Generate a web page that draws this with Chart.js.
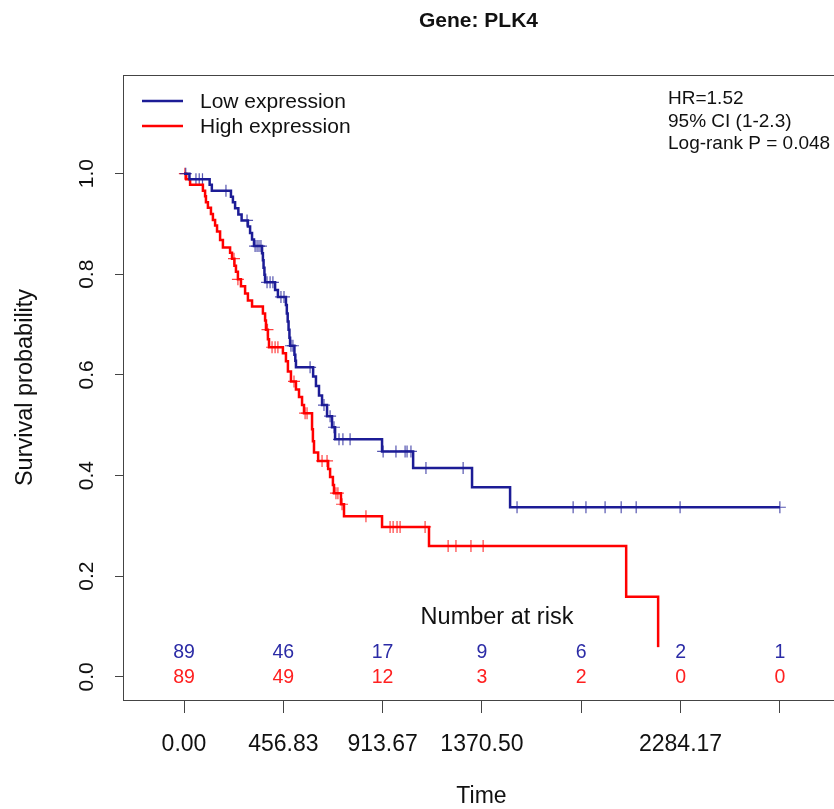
<!DOCTYPE html>
<html><head><meta charset="utf-8">
<script src="https://cdn.jsdelivr.net/npm/chart.js@4/dist/chart.umd.min.js"></script>
<style>html,body{margin:0;padding:0;background:#fff;overflow:hidden}canvas{display:block}</style>
</head><body>
<canvas id="c" width="834" height="809"></canvas>
<script>
// ---- data ----
const chartTitle = 'Gene: PLK4';
const groupNames = ['Low expression', 'High expression'];
const lowEventTimes = [25,118,128,216,225,235,250,265,294,304,313,322,359,363,366,370,373,419,432,469,473,477,481,485,488,508,512,515,594,607,621,635,658,681,695,911,1054,1325,1500];
const lowEventSurv  = [0.989,0.978,0.966,0.954,0.943,0.931,0.919,0.907,0.895,0.882,0.869,0.856,0.842,0.828,0.813,0.799,0.784,0.769,0.755,0.739,0.722,0.706,0.690,0.674,0.658,0.640,0.628,0.615,0.597,0.578,0.559,0.540,0.518,0.496,0.472,0.448,0.415,0.377,0.337];
const lowCensorTimes = [8,55,70,85,193,290,327,336,345,354,382,396,409,446,460,492,501,580,644,672,690,713,731,764,916,975,1017,1026,1044,1113,1284,1532,1790,1849,1937,2011,2080,2282,2741];
const highEventTimes = [10,28,87,97,101,110,124,133,143,152,166,179,212,221,232,239,248,262,281,294,313,363,373,377,386,391,455,469,478,492,515,529,543,552,589,593,598,617,663,672,685,690,722,736,911,1127,2034,2181];
const highEventSurv  = [0.989,0.978,0.966,0.955,0.943,0.932,0.920,0.908,0.897,0.885,0.868,0.853,0.843,0.831,0.817,0.805,0.790,0.776,0.762,0.748,0.736,0.722,0.708,0.690,0.671,0.655,0.643,0.627,0.607,0.587,0.571,0.556,0.540,0.524,0.492,0.468,0.446,0.429,0.413,0.397,0.381,0.365,0.343,0.319,0.298,0.260,0.159,0.0];
const highCensorTimes = [4,230,248,384,405,419,432,506,557,566,635,658,699,708,727,837,948,962,980,994,1109,1215,1251,1320,1376];
const xTickValues = [0,456.83,913.67,1370.50,1827.33,2284.17,2741];
const xTickLabels = ['0.00','456.83','913.67','1370.50','','2284.17',''];
const yTickValues = [0,0.2,0.4,0.6,0.8,1.0];
const yTickLabels = ['0.0','0.2','0.4','0.6','0.8','1.0'];
const riskTimes = [0,456.83,913.67,1370.50,1827.33,2284.17,2741];
const lowAtRisk = [89,46,17,9,6,2,1];
const highAtRisk = [89,49,12,3,2,0,0];
const statsLines = ['HR=1.52','95% CI (1-2.3)','Log-rank P = 0.048'];

// ---- styles ----
const BLUE = '#1c1c96', RED = '#ff0000';
const FONT = '"Liberation Sans", Arial, Helvetica, sans-serif';

function survAt(times, surv, t){ let s = 1; for (let i=0;i<times.length;i++){ if (times[i] <= t) s = surv[i]; } return s; }
function curve(times, surv, censors){
  const pts = [{x:0,y:1}];
  times.forEach((t,i)=>pts.push({x:t,y:surv[i]}));
  const lastC = Math.max(...censors);
  if (lastC > times[times.length-1]) pts.push({x:lastC, y:surv[surv.length-1]});
  return pts;
}
function marks(times, surv, censors){ return censors.map(t=>({x:t,y:survAt(times,surv,t)})); }

const overlay = {
  id:'overlay',
  afterDatasetsDraw(chart){
    const ctx = chart.ctx, a = chart.chartArea, xs = chart.scales.x, ys = chart.scales.y;
    ctx.save();
    // white band behind numbers at risk
    ctx.fillStyle = '#fff';
    ctx.fillRect(a.left+1, ys.getPixelForValue(0.059), a.right-a.left-1, ys.getPixelForValue(-0.04)-ys.getPixelForValue(0.059));
    // box
    ctx.strokeStyle = '#444'; ctx.lineWidth = 1;
    ctx.strokeRect(Math.round(a.left)+0.5, Math.round(a.top)+0.5, a.right-a.left+2, a.bottom-a.top);
    // title
    ctx.fillStyle = '#111';
    ctx.textAlign = 'center'; ctx.textBaseline = 'middle';
    ctx.font = 'bold 21px ' + FONT;
    ctx.fillText(chartTitle, (a.left+a.right)/2, 21);
    // x tick labels
    ctx.font = '23px ' + FONT;
    xTickValues.forEach((v,i)=>{ if (xTickLabels[i]) ctx.fillText(xTickLabels[i], xs.getPixelForValue(v), 745); });
    // x title
    ctx.font = '23px ' + FONT;
    ctx.fillText('Time', (a.left+a.right)/2 + 3, 797);
    // y tick labels rotated
    ctx.font = '21px ' + FONT;
    yTickValues.forEach((v,i)=>{
      ctx.save(); ctx.translate(87, ys.getPixelForValue(v)); ctx.rotate(-Math.PI/2);
      ctx.fillText(yTickLabels[i], 0, 0); ctx.restore();
    });
    // y title
    ctx.save(); ctx.translate(26, (a.top+a.bottom)/2); ctx.rotate(-Math.PI/2);
    ctx.font = '23.5px ' + FONT; ctx.fillText('Survival probability', 0, 0); ctx.restore();
    // legend
    ctx.textAlign = 'left';
    ctx.font = '21px ' + FONT;
    [[BLUE,101,groupNames[0]],[RED,126,groupNames[1]]].forEach(([c,y,t])=>{
      ctx.strokeStyle = c; ctx.lineWidth = 2.5;
      ctx.beginPath(); ctx.moveTo(142,y); ctx.lineTo(183,y); ctx.stroke();
      ctx.fillStyle = '#111'; ctx.fillText(t, 200, y + 1);
    });
    // stats
    ctx.font = '19px ' + FONT;
    statsLines.forEach((t,i)=>ctx.fillText(t, 668, 99 + i*22.5));
    // number at risk
    ctx.textAlign = 'center';
    ctx.font = '23.5px ' + FONT; ctx.fillStyle = '#111';
    ctx.fillText('Number at risk', 497, 618);
    ctx.font = '19.5px ' + FONT;
    riskTimes.forEach((t,i)=>{
      const x = xs.getPixelForValue(t);
      ctx.fillStyle = '#2b2ba6'; ctx.fillText(String(lowAtRisk[i]), x, 653);
      ctx.fillStyle = '#ff2020'; ctx.fillText(String(highAtRisk[i]), x, 678);
    });
    ctx.restore();
  }
};

new Chart(document.getElementById('c'), {
  type:'scatter',
  data:{ datasets:[
    {label:groupNames[0], data:curve(lowEventTimes,lowEventSurv,lowCensorTimes), showLine:true, stepped:true, borderColor:BLUE, borderWidth:2.5, pointRadius:0, fill:false},
    {label:groupNames[1], data:curve(highEventTimes,highEventSurv,highCensorTimes), showLine:true, stepped:true, borderColor:RED, borderWidth:2.5, pointRadius:0, fill:false},
    {label:'low censored', data:marks(lowEventTimes,lowEventSurv,lowCensorTimes), showLine:false, pointStyle:'cross', pointRadius:6, borderColor:'rgba(28,28,150,0.75)', backgroundColor:BLUE, pointBorderWidth:1.2},
    {label:'high censored', data:marks(highEventTimes,highEventSurv,highCensorTimes), showLine:false, pointStyle:'cross', pointRadius:6, borderColor:'rgba(255,0,0,0.75)', backgroundColor:RED, pointBorderWidth:1.2}
  ]},
  options:{
    responsive:false, animation:false, devicePixelRatio:1,
    layout:{autoPadding:false, padding:{left:103, top:75, right:0, bottom:89}},
    plugins:{legend:{display:false}, title:{display:false}, tooltip:{enabled:false}},
    scales:{
      x:{type:'linear', min:-280.6, max:2990,
         afterBuildTicks:s=>{ s.ticks = xTickValues.map(v=>({value:v})); },
         afterFit:s=>{ s.height = 20; },
         ticks:{display:false},
         grid:{drawOnChartArea:false, drawTicks:true, tickLength:13, color:'#444', lineWidth:1},
         border:{display:false}},
      y:{type:'linear', min:-0.046, max:1.196,
         afterBuildTicks:s=>{ s.ticks = yTickValues.map(v=>({value:v})); },
         afterFit:s=>{ s.width = 20; },
         ticks:{display:false},
         grid:{drawOnChartArea:false, drawTicks:true, tickLength:8, color:'#444', lineWidth:1},
         border:{display:false}}
    }
  },
  plugins:[overlay]
});
</script>
</body></html>
